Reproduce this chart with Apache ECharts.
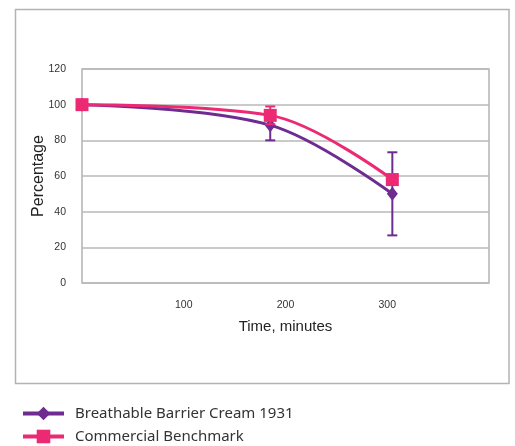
<!DOCTYPE html>
<html>
<head>
<meta charset="utf-8">
<script src="https://cdn.jsdelivr.net/npm/echarts@6/dist/echarts.min.js"></script>
<style>html,body{margin:0;padding:0;background:#fff}#c{width:515px;height:446px}</style>
</head>
<body>
<div id="c"></div>
<script>
var times = [0, 185, 305];
var seriesNames = ['Breathable Barrier Cream 1931', 'Commercial Benchmark'];
var creamValues = [100, 88.5, 50];
var creamErrors = [0, 8.5, 23.3];
var benchValues = [100, 94, 58];
var benchErrors = [0, 5, 0];
var xTicks = [100, 200, 300];
var yTicks = [0, 20, 40, 60, 80, 100, 120];

var purple = '#6E2C90';
var pink = '#EC2A74';

function pts(vals) { return times.map(function (t, i) { return [t, vals[i]]; }); }
function errData(vals, errs) {
  var out = [];
  times.forEach(function (t, i) { if (errs[i] > 0) out.push([t, vals[i] - errs[i], vals[i] + errs[i]]); });
  return out;
}
function errRender(color) {
  return function (params, api) {
    var x = api.value(0);
    var lo = api.coord([x, api.value(1)]);
    var hi = api.coord([x, api.value(2)]);
    var w = 5;
    var st = { stroke: color, lineWidth: 2 };
    return { type: 'group', children: [
      { type: 'line', shape: { x1: lo[0], y1: lo[1], x2: hi[0], y2: hi[1] }, style: st },
      { type: 'line', shape: { x1: lo[0] - w, y1: lo[1], x2: lo[0] + w, y2: lo[1] }, style: st },
      { type: 'line', shape: { x1: hi[0] - w, y1: hi[1], x2: hi[0] + w, y2: hi[1] }, style: st }
    ]};
  };
}

var legendBase = {
  orient: 'vertical', left: 21, itemWidth: 41, itemHeight: 17, itemGap: 0, padding: 0,
  lineStyle: { width: 4 },
  textStyle: { fontSize: 15, color: '#333', fontFamily: 'Noto Sans', padding: [0, 0, 0, 6] }
};

var chart = echarts.init(document.getElementById('c'), null, { renderer: 'canvas' });
chart.setOption({
  animation: false,
  textStyle: { fontFamily: 'Liberation Sans' },
  graphic: [{ type: 'rect', shape: { x: 15.5, y: 9.5, width: 493.5, height: 374 }, style: { fill: 'none', stroke: '#b3b3b3', lineWidth: 1.5 }, z: -1 }],
  grid: { left: 82, top: 69, right: 26, bottom: 163, show: true, borderColor: '#b3b3b3', borderWidth: 1.5 },
  xAxis: {
    type: 'value', min: 0, max: 400, interval: 100,
    name: 'Time, minutes', nameLocation: 'middle', nameGap: 36, nameMoveOverlap: false,
    nameTextStyle: { fontSize: 15, color: '#222', fontFamily: 'Liberation Sans' },
    axisLine: { show: false }, axisTick: { show: false }, splitLine: { show: false },
    axisLabel: { margin: 17, fontSize: 10.5, color: '#333',
      formatter: function (v) { return xTicks.indexOf(v) >= 0 ? String(v) : ''; } }
  },
  yAxis: {
    type: 'value', min: yTicks[0], max: yTicks[yTicks.length - 1], interval: 20,
    name: 'Percentage', nameLocation: 'middle', nameGap: 35, nameMoveOverlap: false,
    nameTextStyle: { fontSize: 16, color: '#222', fontFamily: 'Liberation Sans' },
    axisLine: { show: false }, axisTick: { show: false },
    splitLine: { lineStyle: { color: '#b8b8b8', width: 1.5 } },
    axisLabel: { margin: 16, fontSize: 10.5, color: '#333', padding: [6, 0, 0, 0] }
  },
  legend: [
    Object.assign({}, legendBase, { top: 406, data: [seriesNames[0]] }),
    Object.assign({}, legendBase, { top: 429, data: [seriesNames[1]] })
  ],
  series: [
    { type: 'custom', renderItem: errRender(purple), data: errData(creamValues, creamErrors), z: 1, silent: true },
    { name: seriesNames[0], type: 'line', smooth: 0.35, data: pts(creamValues), symbol: 'diamond', symbolSize: [11, 14],
      lineStyle: { color: purple, width: 3 }, itemStyle: { color: purple }, z: 2 },
    { type: 'custom', renderItem: errRender(pink), data: errData(benchValues, benchErrors), z: 3, silent: true },
    { name: seriesNames[1], type: 'line', smooth: 0.35, data: pts(benchValues), symbol: 'rect', symbolSize: 13,
      lineStyle: { color: pink, width: 3 }, itemStyle: { color: pink }, z: 4 }
  ]
});
</script>
</body>
</html>
